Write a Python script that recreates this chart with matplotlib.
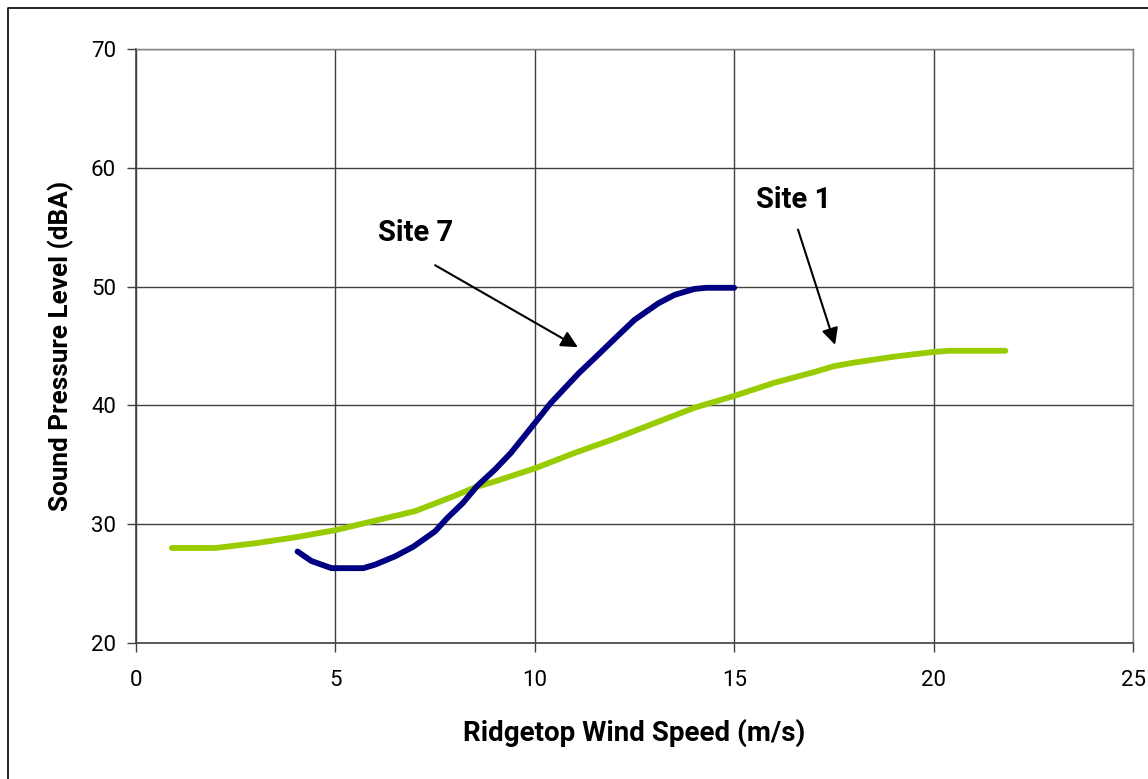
import matplotlib
matplotlib.use("Agg")
import matplotlib.pyplot as plt
from matplotlib.lines import Line2D

plt.rcParams['font.family'] = ['Roboto', 'DejaVu Sans']
plt.rcParams['font.stretch'] = 'condensed'

# Site 1 (green)
site1_x = [0.9, 2.0, 3.0, 4.0, 5.0, 6.0, 7.0, 8.0, 8.5, 9.0, 10.0, 11.0, 12.0, 13.0,
           14.0, 15.0, 16.0, 17.0, 17.5, 18.0, 19.0, 20.0, 20.4, 21.8]
site1_y = [28.0, 28.0, 28.4, 28.9, 29.5, 30.3, 31.1, 32.4, 33.1, 33.6, 34.7, 36.0, 37.2, 38.5,
           39.8, 40.8, 41.9, 42.8, 43.3, 43.6, 44.1, 44.5, 44.6, 44.6]

# Site 7 (navy)
site7_x = [4.05, 4.4, 4.9, 5.7, 6.0, 6.5, 6.95, 7.5, 7.8, 8.2, 8.55, 9.0, 9.4, 9.95, 10.4,
           11.1, 11.6, 12.0, 12.5, 13.1, 13.5, 14.0, 14.3, 15.0]
site7_y = [27.7, 26.9, 26.3, 26.3, 26.6, 27.3, 28.1, 29.4, 30.5, 31.8, 33.2, 34.6, 36.0, 38.3, 40.2,
           42.7, 44.3, 45.6, 47.2, 48.6, 49.3, 49.8, 49.9, 49.9]

x_ticks = [0, 5, 10, 15, 20, 25]
y_ticks = [20, 30, 40, 50, 60, 70]

fig = plt.figure(figsize=(11.48, 7.79), dpi=100)
ax = fig.add_axes([136/1148, 1-643/779, (1133-136)/1148, (643-49)/779])

ax.plot(site1_x, site1_y, color='#99CC00', lw=4.2, solid_capstyle='round', zorder=3)
ax.plot(site7_x, site7_y, color='#000080', lw=4.2, solid_capstyle='round', zorder=3)

ax.set_xlim(0, 25)
ax.set_ylim(20, 70)
ax.set_xticks(x_ticks)
ax.set_yticks(y_ticks)
ax.grid(True, color='#404040', lw=1.0)
ax.set_axisbelow(True)
for s in ['top', 'right']:
    ax.spines[s].set_color('#808080')
    ax.spines[s].set_linewidth(1.0)
for s in ['left', 'bottom']:
    ax.spines[s].set_color('#404040')
    ax.spines[s].set_linewidth(1.2)
ax.tick_params(direction='out', length=6.5, width=1, colors='#404040', labelcolor='black',
               labelsize=16)
ax.tick_params(axis='y', pad=8)
ax.tick_params(axis='x', pad=13)

ax.set_xlabel('Ridgetop Wind Speed (m/s)', fontsize=20, fontweight='bold', labelpad=20)
ax.set_ylabel('Sound Pressure Level (dBA)', fontsize=18.8, fontweight='bold', labelpad=12)

ax.annotate('', xy=(11.08, 44.9), xytext=(7.5, 51.8),
            arrowprops=dict(arrowstyle='-|>', color='black', lw=1.5, mutation_scale=25,
                            shrinkA=0, shrinkB=0))
ax.text(7.0, 54.5, 'Site 7', fontsize=21, fontweight='bold', ha='center', va='center')
ax.annotate('', xy=(17.53, 45.1), xytext=(16.6, 54.8),
            arrowprops=dict(arrowstyle='-|>', color='black', lw=1.5, mutation_scale=25,
                            shrinkA=0, shrinkB=0))
ax.text(16.5, 57.3, 'Site 1', fontsize=21, fontweight='bold', ha='center', va='center')

# outer frame
fig.add_artist(Line2D([8/1148, 8/1148, 1.0], [0.0, 1-8/779, 1-8/779],
                      transform=fig.transFigure, color='black', lw=1.2))

fig.savefig('out.png', dpi=100)
